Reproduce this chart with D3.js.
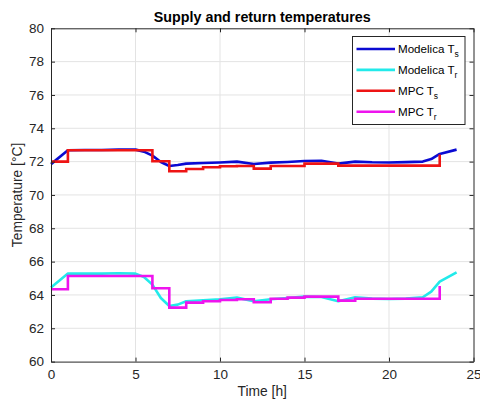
<!DOCTYPE html>
<html>
<head>
<meta charset="utf-8">
<script src="https://cdn.jsdelivr.net/npm/d3@7"></script>
<style>
  html, body { margin: 0; padding: 0; background: #fff; }
  svg { display: block; font-family: "Liberation Sans", Arial, Helvetica, sans-serif; }
</style>
</head>
<body>
<svg id="chart" width="480" height="401"></svg>
<script>
// Simulated (Modelica) supply temperature, °C
const modelicaTsTime = [0, 1, 2, 3, 4, 5, 5.5, 6, 6.5, 7, 7.5, 8, 9, 10, 11, 12, 13, 14, 15, 16, 17, 18, 19, 20, 21, 22, 22.5, 23, 24];
const modelicaTs = [71.85, 72.68, 72.7, 72.7, 72.72, 72.72, 72.6, 72.36, 71.98, 71.74, 71.8, 71.88, 71.92, 71.95, 72.0, 71.86, 71.94, 71.98, 72.04, 72.05, 71.88, 72.0, 71.96, 71.95, 71.97, 72.0, 72.15, 72.46, 72.72];

// Simulated (Modelica) return temperature, °C
const modelicaTrTime = [0, 1, 2, 3, 4, 5, 5.5, 6, 6.5, 7, 7.5, 8, 9, 10, 11, 12, 13, 14, 15, 16, 17, 18, 19, 20, 21, 22, 22.5, 23, 24];
const modelicaTr = [64.45, 65.28, 65.28, 65.28, 65.3, 65.28, 65.08, 64.62, 63.82, 63.34, 63.42, 63.62, 63.68, 63.74, 63.84, 63.62, 63.74, 63.82, 63.9, 63.88, 63.62, 63.86, 63.78, 63.76, 63.78, 63.86, 64.2, 64.8, 65.36];

// MPC set-points, hourly (held until the next hour)
const mpcHours = [0, 1, 2, 3, 4, 5, 6, 7, 8, 9, 10, 11, 12, 13, 14, 15, 16, 17, 18, 19, 20, 21, 22, 23];
const mpcTs = [72.0, 72.68, 72.68, 72.68, 72.68, 72.68, 72.02, 71.42, 71.56, 71.66, 71.72, 71.74, 71.58, 71.74, 71.74, 71.88, 71.88, 71.76, 71.76, 71.76, 71.76, 71.76, 71.76, 72.42];
const mpcTr = [64.34, 65.14, 65.14, 65.14, 65.14, 65.14, 64.4, 63.24, 63.54, 63.62, 63.7, 63.74, 63.56, 63.77, 63.84, 63.9, 63.9, 63.66, 63.77, 63.77, 63.77, 63.77, 63.77, 64.54];

const xTicks = [0, 5, 10, 15, 20, 25];
const yTicks = [60, 62, 64, 66, 68, 70, 72, 74, 76, 78, 80];

const seriesNames = ["Modelica T", "Modelica T", "MPC T", "MPC T"];
const seriesSubs = ["s", "r", "s", "r"];
const seriesColors = ["#0a0ad2", "#22eaea", "#ee1414", "#ee14ee"];

const svg = d3.select("#chart");
const plotL = 51, plotR = 473.5, plotT = 28.3, plotB = 361.6;

const x = d3.scaleLinear().domain([0, 25]).range([plotL, plotR]);
const y = d3.scaleLinear().domain([60, 80]).range([plotB, plotT]);

// grid
const grid = svg.append("g");
grid.selectAll("line.vx").data(xTicks.slice(1, -1)).join("line")
  .attr("x1", d => x(d)).attr("x2", d => x(d))
  .attr("y1", plotT).attr("y2", plotB)
  .attr("stroke", "#e3e3e3").attr("stroke-width", 1);
grid.selectAll("line.hy").data(yTicks.slice(1, -1)).join("line")
  .attr("x1", plotL).attr("x2", plotR)
  .attr("y1", d => y(d)).attr("y2", d => y(d))
  .attr("stroke", "#e3e3e3").attr("stroke-width", 1);

// data lines
const smooth = (ts, vs) => d3.line().x((d, i) => x(ts[i])).y(d => y(d))(vs);
const stairs = (ts, vs) => d3.line().curve(d3.curveStepAfter).x((d, i) => x(ts[i])).y(d => y(d))(vs);

const lines = svg.append("g").attr("fill", "none").attr("stroke-width", 2.6)
  .attr("stroke-linejoin", "round");
lines.append("path").attr("d", smooth(modelicaTsTime, modelicaTs)).attr("stroke", seriesColors[0]);
lines.append("path").attr("d", smooth(modelicaTrTime, modelicaTr)).attr("stroke", seriesColors[1]);
lines.append("path").attr("d", stairs(mpcHours, mpcTs)).attr("stroke", seriesColors[2]).attr("stroke-linejoin", "miter");
lines.append("path").attr("d", stairs(mpcHours, mpcTr)).attr("stroke", seriesColors[3]).attr("stroke-linejoin", "miter");

// axes (box with inward ticks)
const axisColor = "#262626";
const tickFmt = d3.format("d");
const axB = svg.append("g").attr("transform", `translate(0,${plotB})`)
  .call(d3.axisBottom(x).tickValues(xTicks).tickSizeInner(-4).tickSizeOuter(0).tickPadding(8).tickFormat(tickFmt));
const axT = svg.append("g").attr("transform", `translate(0,${plotT})`)
  .call(d3.axisTop(x).tickValues(xTicks).tickSizeInner(-4).tickSizeOuter(0).tickFormat(""));
const axL = svg.append("g").attr("transform", `translate(${plotL},0)`)
  .call(d3.axisLeft(y).tickValues(yTicks).tickSizeInner(-4).tickSizeOuter(0).tickPadding(7).tickFormat(tickFmt));
const axR = svg.append("g").attr("transform", `translate(${plotR},0)`)
  .call(d3.axisRight(y).tickValues(yTicks).tickSizeInner(-4).tickSizeOuter(0).tickFormat(""));
[axB, axT, axL, axR].forEach(g => {
  g.select(".domain").attr("stroke", axisColor).attr("stroke-width", 1);
  g.selectAll(".tick line").attr("stroke", axisColor);
  g.selectAll(".tick text").attr("fill", axisColor).attr("font-size", 13.5)
    .attr("font-family", "'Liberation Sans', Arial, sans-serif");
});

// titles
svg.append("text").attr("x", (plotL + plotR) / 2).attr("y", 22)
  .attr("text-anchor", "middle").attr("font-weight", "bold").attr("font-size", 14.3)
  .attr("fill", "#000").text("Supply and return temperatures");
svg.append("text").attr("x", (plotL + plotR) / 2).attr("y", 396)
  .attr("text-anchor", "middle").attr("font-size", 13.8).attr("fill", axisColor).text("Time [h]");
svg.append("text").attr("transform", `translate(22,${(plotT + plotB) / 2}) rotate(-90)`)
  .attr("text-anchor", "middle").attr("font-size", 13.8).attr("fill", axisColor).text("Temperature [°C]");

// legend
const lg = svg.append("g");
lg.append("rect").attr("x", 352.5).attr("y", 36.5).attr("width", 112.5).attr("height", 88)
  .attr("fill", "#fff").attr("stroke", axisColor).attr("stroke-width", 1);
seriesNames.forEach((name, i) => {
  const cy = 49 + i * 20.9;
  lg.append("line").attr("x1", 356.5).attr("x2", 395).attr("y1", cy).attr("y2", cy)
    .attr("stroke", seriesColors[i]).attr("stroke-width", 2.6);
  const t = lg.append("text").attr("x", 398).attr("y", cy + 4.3).attr("font-size", 11.6).attr("fill", "#000");
  t.append("tspan").text(name);
  t.append("tspan").attr("dy", 4).attr("font-size", 8.5).text(seriesSubs[i]);
});
</script>
</body>
</html>
